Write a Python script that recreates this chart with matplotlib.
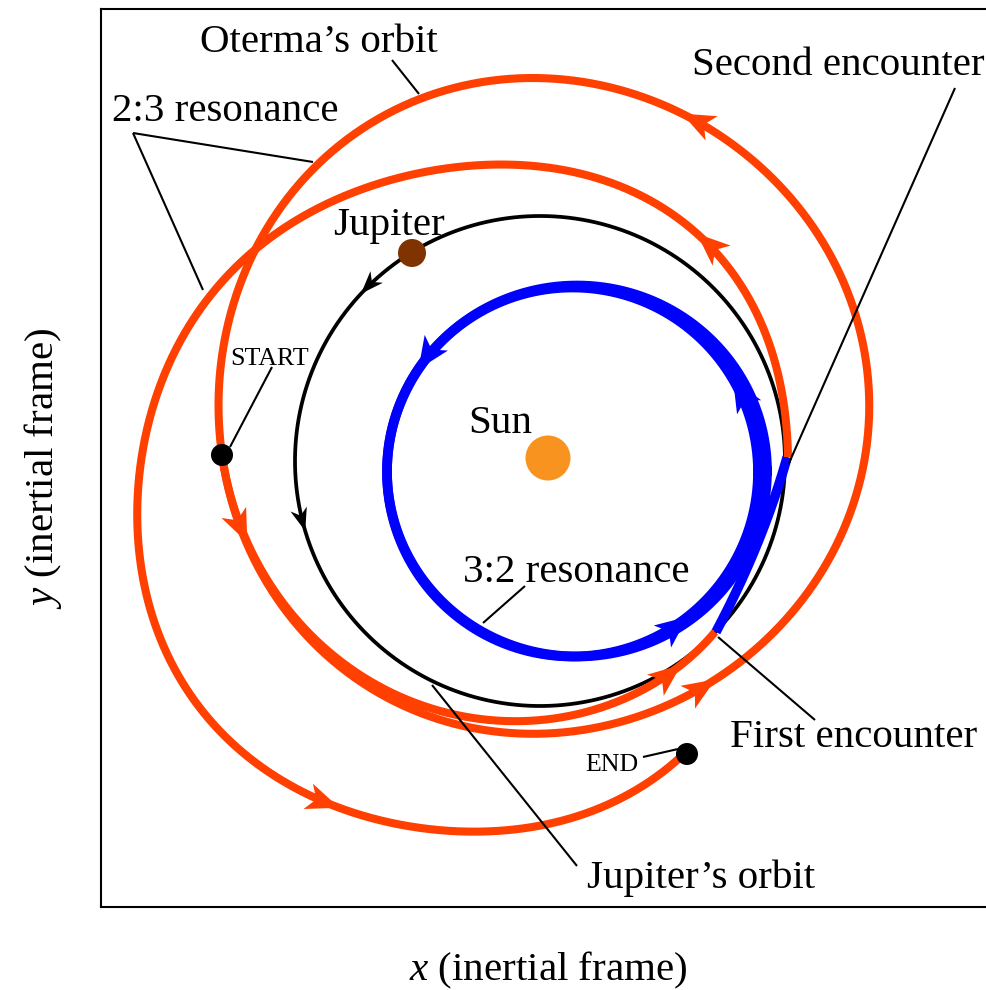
import numpy as np
import matplotlib
matplotlib.use("Agg")
import matplotlib.pyplot as plt
from matplotlib.patches import Circle, Polygon

plt.rcParams['font.family'] = ['Liberation Serif', 'DejaVu Serif']
plt.rcParams['mathtext.fontset'] = 'custom'
plt.rcParams['mathtext.rm'] = 'Liberation Serif'
plt.rcParams['mathtext.it'] = 'Liberation Serif:italic'

# ---------------- data (diagram units, y grows downward) ----------------
sun_xy = (548, 458)
sun_radius = 22.5
jupiter_orbit_center = (540, 461)
jupiter_orbit_radius = 245
jupiter_xy = (412, 253)
jupiter_radius = 14
start_xy = (222, 455)
end_xy = (687, 754)

# outer 2:3 loop traced from START (counter-clockwise) back to START
loop_x = [222, 238, 272, 326, 392, 463, 537, 600, 669, 727, 778, 815, 850, 865, 866,
          858, 836, 800, 752, 683, 615, 543, 470, 418, 367, 315, 284, 260, 240, 227, 220]
loop_y = [455, 521, 588, 651, 700, 730, 733, 725, 704, 672, 628, 583, 520, 455, 400,
          330, 262, 207, 157, 115, 90, 81, 86, 95, 124, 163, 205, 247, 290, 333, 400]

# second pass: START -> first encounter
approach_x = [222, 236, 269, 320, 388, 463, 537, 600, 650, 690, 715]
approach_y = [455, 519, 586, 646, 690, 717, 717, 708, 688, 660, 632]

# temporary 3:2 capture (loops inside Jupiter's orbit)
blue_cx = [572.5, 577.0]
blue_cy = [472.0, 471.0]
blue_rx = [185.5, 190.0]
blue_ry = [184.5, 185.5]
strand_x = [715, 740, 758, 774, 788]
strand_y = [632, 588, 540, 496, 457]

# comet path after second encounter -> END
post_x = [788, 789, 786, 774, 758, 735, 694, 650, 607, 550, 480, 420, 367, 315, 260,
          217, 170, 147, 138, 141, 158, 185, 225, 270, 325, 390, 467, 550, 617, 677, 687]
post_y = [457, 420, 380, 343, 315, 283, 238, 196, 181, 171, 164, 170, 188, 210, 247,
          290, 360, 420, 487, 553, 630, 690, 735, 772, 803, 823, 833, 823, 794, 757, 751]

labels = [
    ("Oterma\u2019s orbit", 200, 52, 29.5),
    ("2:3 resonance", 112, 121, 29.5),
    ("Second encounter", 692, 75, 29.5),
    ("Jupiter", 333, 235, 29.5),
    ("START", 230, 365, 18.7),
    ("Sun", 468, 433, 29.5),
    ("3:2 resonance", 463, 582, 29.5),
    ("First encounter", 730, 747, 29.5),
    ("END", 585, 771, 18.7),
    ("Jupiter\u2019s orbit", 587, 888, 29.5),
]
pointers = [
    ((392, 60), (419, 94)),
    ((133, 133), (313, 162)),
    ((133, 133), (203, 290)),
    ((955, 88), (789, 463)),
    ((272, 367), (230, 447)),
    ((525, 586), (483, 623)),
    ((815, 720), (718, 637)),
    ((643, 757), (678, 749)),
    ((577, 866), (432, 685)),
]

ORANGE = '#FF4000'
BLUE = '#0000FF'
SUN = '#F7931E'
BROWN = '#7F3300'


def fourier_basis(t, K):
    cols = [np.ones_like(t)]
    for k in range(1, K + 1):
        cols += [np.cos(k * t), np.sin(k * t)]
    return np.column_stack(cols)


def polar_fit(xs, ys, center, K=3, closed=False, n=900, pin=30.0):
    """Smooth curve r(theta) about `center` fitted to traced points."""
    xs = np.asarray(xs, float)
    ys = np.asarray(ys, float)
    cx, cy = center
    th = np.unwrap(np.arctan2(ys - cy, xs - cx))
    r = np.hypot(xs - cx, ys - cy)
    th_end = th[0] - 2 * np.pi if closed else th[-1]
    w = np.ones_like(r)
    w[0] = pin
    if not closed:
        w[-1] = pin
    coef, *_ = np.linalg.lstsq(fourier_basis(th, K) * w[:, None], r * w, rcond=None)
    tt = np.linspace(th[0], th_end, n)
    rr = fourier_basis(tt, K) @ coef
    return tt, rr, coef


def departure_fit(xs, ys, center, coef, K, n=400, pin=30.0):
    """Path leaving the fitted loop smoothly at its first point."""
    xs = np.asarray(xs, float)
    ys = np.asarray(ys, float)
    cx, cy = center
    th = np.unwrap(np.arctan2(ys - cy, xs - cx))
    r = np.hypot(xs - cx, ys - cy)
    d = r - fourier_basis(th, K) @ coef
    u = (th - th[0]) / (th[-1] - th[0])
    M = np.column_stack([u ** 2, u ** 3, u ** 4])
    w = np.ones_like(r)
    w[-1] = pin
    c, *_ = np.linalg.lstsq(M * w[:, None], d * w, rcond=None)
    tt = np.linspace(th[0], th[-1], n)
    uu = (tt - th[0]) / (th[-1] - th[0])
    rr = fourier_basis(tt, K) @ coef + np.column_stack([uu ** 2, uu ** 3, uu ** 4]) @ c
    return cx + rr * np.cos(tt), cy + rr * np.sin(tt)


def ellipse(cx, cy, rx, ry, n=900):
    t = np.linspace(0, -2 * np.pi, n)
    return cx + rx * np.cos(t), cy + ry * np.sin(t)


def arrowhead(ax, xs, ys, target, length, half_w, color, z, notch=0.74):
    d = (xs - target[0]) ** 2 + (ys - target[1]) ** 2
    i = int(np.argmin(d))
    j0, j1 = max(i - 4, 0), min(i + 4, len(xs) - 1)
    t = np.array([xs[j1] - xs[j0], ys[j1] - ys[j0]], float)
    t /= np.hypot(*t)
    nrm = np.array([-t[1], t[0]])
    tip = np.array([xs[i], ys[i]])
    base = tip - length * t
    poly = [tip, base + half_w * nrm, tip - notch * length * t, base - half_w * nrm]
    ax.add_patch(Polygon(poly, closed=True, fc=color, ec='none', zorder=z))


fig = plt.figure(figsize=(9.86, 9.90), dpi=100)
L, R, T, B = 101, 990, 9, 907
ax = fig.add_axes([L / 986, (990 - B) / 990, (R - L) / 986, (B - T) / 990])
ax.set_xlim(L, R)
ax.set_ylim(B, T)
ax.set_xticks([])
ax.set_yticks([])
for s in ax.spines.values():
    s.set_linewidth(1.5)

# Jupiter's orbit
jx, jy = ellipse(jupiter_orbit_center[0], jupiter_orbit_center[1],
                 jupiter_orbit_radius, jupiter_orbit_radius)
ax.plot(jx, jy, color='black', lw=2.7, zorder=2)
for tgt in [(363, 295), (302, 532)]:
    arrowhead(ax, jx, jy, tgt, 23, 8.5, 'black', 2.1, notch=0.7)

# blue 3:2 loops
for cx, cy, rx, ry in zip(blue_cx, blue_cy, blue_rx, blue_ry):
    bx, by = ellipse(cx, cy, rx, ry)
    ax.plot(bx, by, color=BLUE, lw=7.0, zorder=3)
bx, by = ellipse(blue_cx[0], blue_cy[0], blue_rx[0], blue_ry[0])
for tgt in [(733, 380), (415, 367), (687, 617)]:
    arrowhead(ax, bx, by, tgt, 32, 14, BLUE, 3.1)
cs = np.polyfit(strand_y, strand_x, 2)
sy = np.linspace(strand_y[0], strand_y[-1], 200)
sx = np.polyval(cs, sy)
ax.plot(sx, sy, color=BLUE, lw=7.0, solid_capstyle='butt', zorder=3)

# orange 2:3 paths
C1 = (545, 406)
tt, rr, coef1 = polar_fit(loop_x, loop_y, C1, K=3, closed=True)
lx, ly = C1[0] + rr * np.cos(tt), C1[1] + rr * np.sin(tt)
ax.plot(lx, ly, color=ORANGE, lw=5.8, solid_capstyle='butt', zorder=4)
for tgt in [(717, 680), (682, 115)]:
    arrowhead(ax, lx, ly, tgt, 33, 13.5, ORANGE, 4.1)

apx, apy = departure_fit(approach_x, approach_y, C1, coef1, 3)
ax.plot(apx, apy, color=ORANGE, lw=5.8, solid_capstyle='butt', zorder=4)
for tgt in [(252, 540), (682, 666)]:
    arrowhead(ax, apx, apy, tgt, 33, 13.5, ORANGE, 4.1)

C2 = (463, 498)
tq, rq, _ = polar_fit(post_x, post_y, C2, K=4)
qx, qy = C2[0] + rq * np.cos(tq), C2[1] + rq * np.sin(tq)
ax.plot(qx, qy, color=ORANGE, lw=5.8, solid_capstyle='butt', zorder=4)
for tgt in [(692, 240), (340, 803)]:
    arrowhead(ax, qx, qy, tgt, 33, 13.5, ORANGE, 4.1)

# bodies and markers
ax.add_patch(Circle(sun_xy, sun_radius, fc=SUN, ec='none', zorder=6))
ax.add_patch(Circle(jupiter_xy, jupiter_radius, fc=BROWN, ec='none', zorder=6))
ax.add_patch(Circle(start_xy, 11, fc='black', ec='none', zorder=6))
ax.add_patch(Circle(end_xy, 11, fc='black', ec='none', zorder=6))

for (x0, y0), (x1, y1) in pointers:
    ax.plot([x0, x1], [y0, y1], color='black', lw=1.5, zorder=7,
            solid_capstyle='butt')

for txt, x, y, fs in labels:
    ax.text(x, y, txt, fontsize=fs, ha='left', va='baseline', zorder=8)

fig.text(548 / 986, 1 - 980 / 990, r'$x$ (inertial frame)', fontsize=29.5,
         ha='center', va='baseline')
fig.text(43 / 986, 1 - 468 / 990, r'$y$ (inertial frame)', fontsize=29.5,
         ha='center', va='center', rotation=90)

fig.savefig('out.png', dpi=100)
